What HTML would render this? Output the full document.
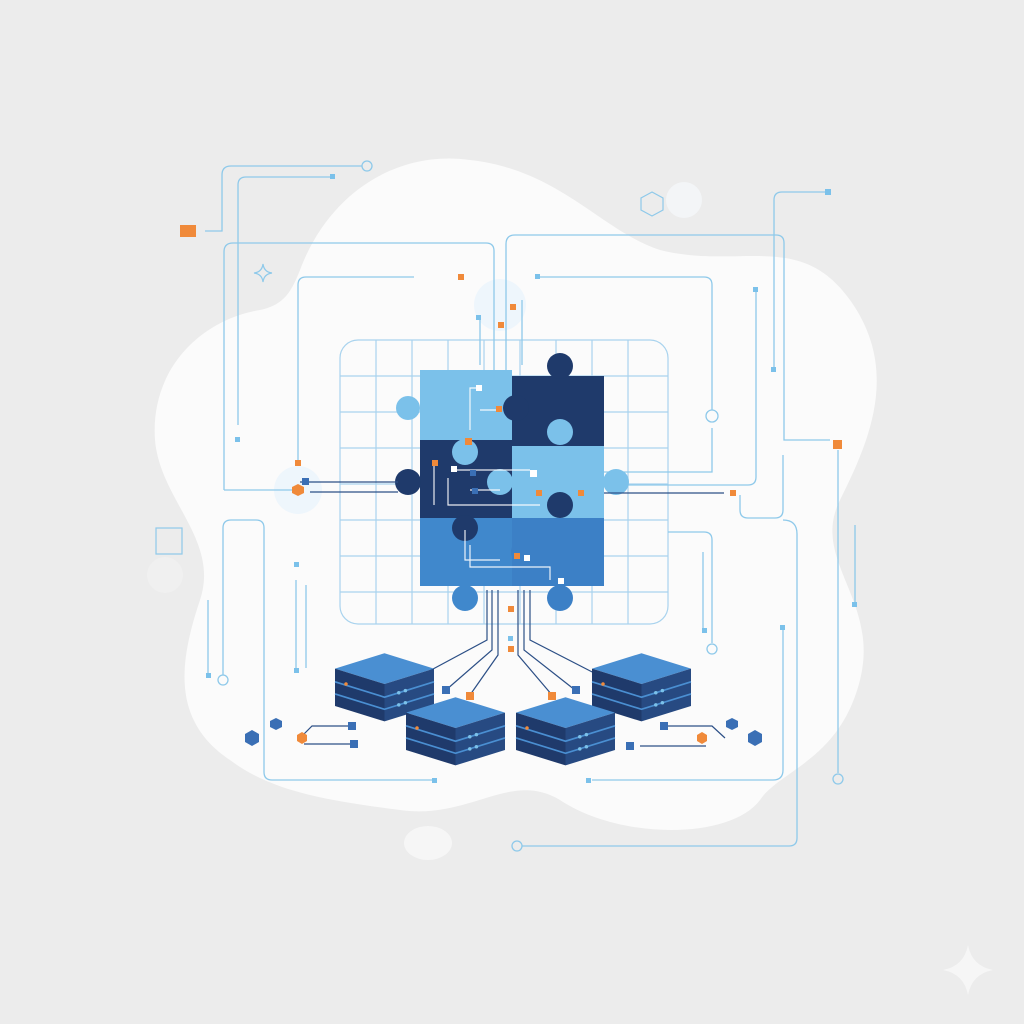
<!DOCTYPE html>
<html><head><meta charset="utf-8"><style>html,body{margin:0;padding:0;background:#ececec}svg{display:block}</style></head>
<body>
<svg width="1024" height="1024" viewBox="0 0 1024 1024" xmlns="http://www.w3.org/2000/svg">
<rect width="1024" height="1024" fill="#ececec"/>
<path d="M300,270 C330,190 400,150 470,160 C560,170 600,230 660,250 C740,270 800,230 850,300 C900,370 870,440 840,500 C810,560 880,600 860,680 C840,760 780,770 760,800 C730,840 620,840 560,800 C510,770 470,820 400,810 C320,800 270,790 230,760 C170,720 180,660 200,600 C220,540 160,500 155,440 C150,370 200,320 260,310 C285,305 292,290 300,270 Z" fill="#fbfbfb"/>
<ellipse cx="428" cy="843" rx="24" ry="17" fill="#f6f6f6"/>
<path d="M968,945 Q972,966 993,970 Q972,974 968,995 Q964,974 943,970 Q964,966 968,945Z" fill="#f6f6f6"/>
<circle cx="500" cy="305" r="26" fill="#eef6fc"/>
<circle cx="298" cy="490" r="24" fill="#eef6fc"/>
<circle cx="684" cy="200" r="18" fill="#f3f5f7"/>
<circle cx="165" cy="575" r="18" fill="#f0f0f0"/>

<g stroke="#a9d3ee" stroke-width="1.2" fill="none">
<rect x="340" y="340" width="328" height="284" rx="18"/>
<path d="M376,340V624M412,340V624M448,340V624M484,340V624M520,340V624M556,340V624M592,340V624M628,340V624"/>
<path d="M340,376H668M340,412H668M340,448H668M340,484H668M340,520H668M340,556H668M340,592H668"/>
</g>

<g stroke="#8ec9ea" stroke-width="1.3" fill="none">
<path d="M205,231H222V175Q222,166 231,166H362"/>
<circle cx="367" cy="166" r="5"/>
<path d="M238,425V185Q238,177 246,177H332"/>
<path d="M224,490V252Q224,243 233,243H486Q494,243 494,251V370"/>
<path d="M298,460V285Q298,277 306,277H414"/>
<path d="M224,490H300"/>
<path d="M506,370V244Q506,235 515,235H776Q784,235 784,243V440H830"/>
<path d="M540,277H704Q712,277 712,285V410"/>
<circle cx="712" cy="416" r="6"/>
<path d="M604,472H712V428"/>
<path d="M604,485H748Q756,485 756,477V290"/>
<path d="M774,370V200Q774,192 782,192H826"/>
<path d="M740,495V510Q740,518 748,518H775Q783,518 783,510V455"/>
<path d="M783,520Q797,520 797,534V838Q797,846 789,846H522"/>
<circle cx="517" cy="846" r="5"/>
<path d="M838,450V773"/><circle cx="838" cy="779" r="5"/>
<path d="M855,525V603"/>
<path d="M668,532H704Q712,532 712,540V643"/><circle cx="712" cy="649" r="5"/>
<path d="M703,552V630"/>
<path d="M783,630V770Q783,780 773,780H592"/>
<path d="M223,675V528Q223,520 231,520H256Q264,520 264,528V772Q264,780 272,780H432"/>
<circle cx="223" cy="680" r="5"/>
<path d="M208,600V675"/>
<path d="M296,580V670M306,585V668"/>
<path d="M480,320V365M522,300V365"/>
</g>
<g fill="none" stroke="#8ec9ea" stroke-width="1.2">
<rect x="156" y="528" width="26" height="26"/>
<path d="M652,192L663,198V210L652,216L641,210V198Z"/>
<path d="M263,264Q264,272 272,273Q264,274 263,282Q262,274 254,273Q262,272 263,264Z"/>
</g>

<rect x="420" y="370" width="92" height="72" fill="#7bc1ea"/>
<circle cx="408" cy="408" r="12" fill="#7bc1ea"/>
<rect x="512" y="376" width="92" height="70" fill="#1f3a6b"/>
<circle cx="560" cy="366" r="13" fill="#1f3a6b"/>
<circle cx="516" cy="408" r="13" fill="#1f3a6b"/>
<circle cx="560" cy="432" r="13" fill="#7bc1ea"/>
<rect x="420" y="440" width="92" height="78" fill="#1f3a6b"/>
<circle cx="408" cy="482" r="13" fill="#1f3a6b"/>
<circle cx="465" cy="452" r="13" fill="#7bc1ea"/>
<rect x="512" y="446" width="92" height="72" fill="#7bc1ea"/>
<circle cx="616" cy="482" r="13" fill="#7bc1ea"/>
<circle cx="500" cy="482" r="13" fill="#7bc1ea"/>
<rect x="420" y="518" width="92" height="68" fill="#4088cc"/>
<circle cx="465" cy="598" r="13" fill="#4088cc"/>
<circle cx="465" cy="528" r="13" fill="#1f3a6b"/>
<rect x="512" y="518" width="92" height="68" fill="#3c80c6"/>
<circle cx="560" cy="598" r="13" fill="#3c80c6"/>
<circle cx="524" cy="552" r="13" fill="#3c80c6"/>
<circle cx="560" cy="505" r="13" fill="#1f3a6b"/>

<g stroke="#ffffff" stroke-width="1.2" fill="none" opacity="0.9">
<path d="M478,388H470V430M498,410H480"/>
<path d="M455,470H530M448,478V505H540M470,490H500M434,465V505"/>
<path d="M465,530V560H500M470,545V567H550V580"/>
</g>

<g stroke="#2c4f86" stroke-width="1.2" fill="none">
<path d="M300,482H398M310,492H398M604,493H724"/>
<path d="M487,590V640L420,676M492,590V650L446,690M498,590V655L470,695"/>
<path d="M530,590V640L600,676M524,590V650L575,690M518,590V655L552,695"/>
<path d="M300,738L312,726H352M304,744H352M665,726H712L725,738M640,746H706"/>
</g>

<defs>
<g id="srv">
<path d="M0,-14L45,-28L90,-14L45,0Z" fill="#4a8fd2"/>
<path d="M0,-14L45,0V34L0,20Z" fill="#1f3a6b"/>
<path d="M90,-14L45,0V34L90,20Z" fill="#274a82"/>
<path d="M0,-2L45,12L90,-2M0,9L45,23L90,9" stroke="#4a8fd2" stroke-width="1.5" fill="none"/>
<circle cx="58" cy="8" r="1.6" fill="#7bc1ea"/><circle cx="64" cy="6" r="1.6" fill="#7bc1ea"/>
<circle cx="58" cy="19" r="1.6" fill="#7bc1ea"/><circle cx="64" cy="17" r="1.6" fill="#7bc1ea"/>
<circle cx="10" cy="0" r="1.6" fill="#f08a3a"/>
</g>
</defs>
<use href="#srv" transform="translate(335,684) scale(1.1)"/>
<use href="#srv" transform="translate(592,684) scale(1.1)"/>
<use href="#srv" transform="translate(406,728) scale(1.1)"/>
<use href="#srv" transform="translate(516,728) scale(1.1)"/>

<g fill="#f08a3a">
<rect x="180" y="225" width="16" height="12"/>
<rect x="458" y="274" width="6" height="6"/><rect x="510" y="304" width="6" height="6"/>
<rect x="498" y="322" width="6" height="6"/><rect x="496" y="406" width="6" height="6"/>
<rect x="465" y="438" width="7" height="7"/><rect x="432" y="460" width="6" height="6"/>
<rect x="536" y="490" width="6" height="6"/><rect x="578" y="490" width="6" height="6"/>
<rect x="514" y="553" width="6" height="6"/><rect x="508" y="606" width="6" height="6"/>
<rect x="508" y="646" width="6" height="6"/><rect x="295" y="460" width="6" height="6"/>
<rect x="466" y="692" width="8" height="8"/><rect x="548" y="692" width="8" height="8"/>
<rect x="833" y="440" width="9" height="9"/><rect x="730" y="490" width="6" height="6"/>
<path d="M298,484l6,3v6l-6,3l-6,-3v-6z"/><path d="M702,732l5,3v6l-5,3l-5,-3v-6z"/>
<path d="M302,732l5,3v6l-5,3l-5,-3v-6z"/>
</g>
<g fill="#3a6fb5">
<rect x="442" y="686" width="8" height="8"/><rect x="572" y="686" width="8" height="8"/>
<rect x="348" y="722" width="8" height="8"/><rect x="350" y="740" width="8" height="8"/>
<rect x="660" y="722" width="8" height="8"/><rect x="626" y="742" width="8" height="8"/>
<rect x="302" y="478" width="7" height="7"/><rect x="470" y="470" width="6" height="6"/>
<rect x="472" y="488" width="6" height="6"/>
<path d="M252,730l7,4v8l-7,4l-7,-4v-8z"/><path d="M276,718l6,3v6l-6,3l-6,-3v-6z"/>
<path d="M755,730l7,4v8l-7,4l-7,-4v-8z"/><path d="M732,718l6,3v6l-6,3l-6,-3v-6z"/>
</g>
<g fill="#ffffff">
<rect x="476" y="385" width="6" height="6"/><rect x="530" y="470" width="7" height="7"/>
<rect x="524" y="555" width="6" height="6"/><rect x="558" y="578" width="6" height="6"/>
<rect x="451" y="466" width="6" height="6"/>
</g>
<g fill="#7bc1ea">
<rect x="330" y="174" width="5" height="5"/><rect x="235" y="437" width="5" height="5"/>
<rect x="535" y="274" width="5" height="5"/><rect x="476" y="315" width="5" height="5"/>
<rect x="825" y="189" width="6" height="6"/><rect x="753" y="287" width="5" height="5"/>
<rect x="771" y="367" width="5" height="5"/><rect x="852" y="602" width="5" height="5"/>
<rect x="780" y="625" width="5" height="5"/><rect x="294" y="562" width="5" height="5"/>
<rect x="294" y="668" width="5" height="5"/><rect x="206" y="673" width="5" height="5"/>
<rect x="432" y="778" width="5" height="5"/><rect x="586" y="778" width="5" height="5"/>
<rect x="702" y="628" width="5" height="5"/><rect x="508" y="636" width="5" height="5"/>
</g>
</svg>
</body></html>
